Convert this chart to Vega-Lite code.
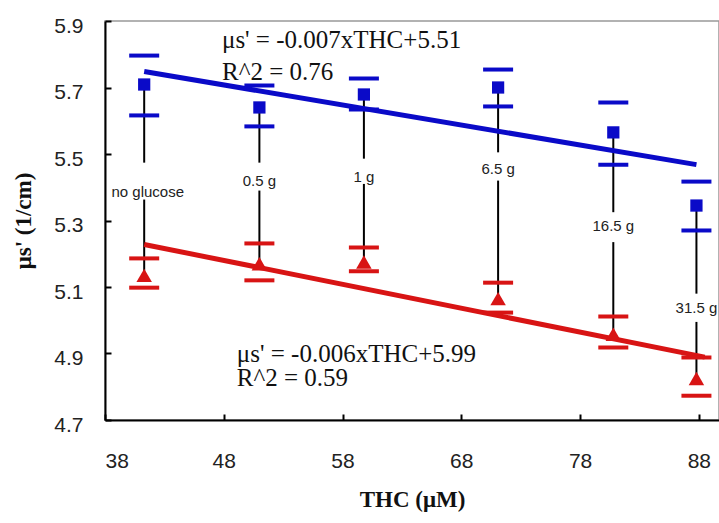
{
  "$schema": "https://vega.github.io/schema/vega-lite/v6.json",
  "width": 614,
  "height": 399,
  "autosize": {"type": "none"},
  "padding": {"left": 105, "top": 21, "right": 0, "bottom": 103},
  "background": "white",
  "view": {"stroke": "#999999", "strokeWidth": 1.5},
  "datasets": {
    "pts": [
      {"thc": 41.3, "series": "blue", "value": 5.709, "lo": 5.616, "hi": 5.796},
      {"thc": 51.0, "series": "blue", "value": 5.640, "lo": 5.583, "hi": 5.706},
      {"thc": 59.8, "series": "blue", "value": 5.679, "lo": 5.634, "hi": 5.727},
      {"thc": 71.1, "series": "blue", "value": 5.700, "lo": 5.643, "hi": 5.754},
      {"thc": 80.8, "series": "blue", "value": 5.565, "lo": 5.468, "hi": 5.655},
      {"thc": 87.8, "series": "blue", "value": 5.345, "lo": 5.270, "hi": 5.417},
      {"thc": 41.3, "series": "red", "value": 5.135, "lo": 5.098, "hi": 5.186},
      {"thc": 51.0, "series": "red", "value": 5.170, "lo": 5.120, "hi": 5.231},
      {"thc": 59.8, "series": "red", "value": 5.175, "lo": 5.147, "hi": 5.219},
      {"thc": 71.1, "series": "red", "value": 5.065, "lo": 5.023, "hi": 5.113},
      {"thc": 80.8, "series": "red", "value": 4.958, "lo": 4.918, "hi": 5.011},
      {"thc": 87.8, "series": "red", "value": 4.825, "lo": 4.773, "hi": 4.888}
    ],
    "conn": [
      {"thc": 41.3, "y1": 5.709, "y2": 5.474},
      {"thc": 41.3, "y1": 5.363, "y2": 5.14},
      {"thc": 51.0, "y1": 5.645, "y2": 5.474},
      {"thc": 51.0, "y1": 5.39, "y2": 5.17},
      {"thc": 59.8, "y1": 5.679, "y2": 5.486},
      {"thc": 59.8, "y1": 5.41, "y2": 5.18},
      {"thc": 71.1, "y1": 5.70, "y2": 5.505},
      {"thc": 71.1, "y1": 5.42, "y2": 5.07},
      {"thc": 80.8, "y1": 5.565, "y2": 5.325},
      {"thc": 80.8, "y1": 5.235, "y2": 4.96},
      {"thc": 87.8, "y1": 5.345, "y2": 5.08},
      {"thc": 87.8, "y1": 4.995, "y2": 4.83}
    ],
    "fit": [
      {"thc": 41.3, "series": "blue", "value": 5.748},
      {"thc": 87.8, "series": "blue", "value": 5.468},
      {"thc": 41.3, "series": "red", "value": 5.228},
      {"thc": 88.5, "series": "red", "value": 4.889}
    ],
    "labels": [
      {"thc": 41.6, "value": 5.387, "label": "no glucose"},
      {"thc": 51.0, "value": 5.42, "label": "0.5 g"},
      {"thc": 59.8, "value": 5.43, "label": "1 g"},
      {"thc": 71.1, "value": 5.456, "label": "6.5 g"},
      {"thc": 80.8, "value": 5.282, "label": "16.5 g"},
      {"thc": 87.8, "value": 5.038, "label": "31.5 g"}
    ],
    "eq": [
      {"thc": 47.85, "value": 5.844, "label": "μs' = -0.007xTHC+5.51"},
      {"thc": 47.85, "value": 5.748, "label": "R^2 = 0.76"},
      {"thc": 49.1, "value": 4.9, "label": "μs' = -0.006xTHC+5.99"},
      {"thc": 49.1, "value": 4.825, "label": "R^2 = 0.59"}
    ]
  },
  "encoding": {
    "x": {
      "field": "thc", "type": "quantitative",
      "scale": {"domain": [38, 89.7], "nice": false, "zero": false},
      "axis": {
        "title": "THC (μM)", "values": [38, 48, 58, 68, 78, 88],
        "grid": false, "tickSize": -6, "tickColor": "black", "domainColor": "black", "domainWidth": 2, "tickWidth": 2,
        "labelFont": "Liberation Sans", "labelFontSize": 21, "labelColor": "#222", "labelPadding": 36,
        "titleFont": "Liberation Serif", "titleFontSize": 23, "titleFontWeight": "bold", "titleColor": "#111", "titlePadding": 17
      }
    },
    "y": {
      "field": "value", "type": "quantitative",
      "scale": {"domain": [4.7, 5.9], "nice": false, "zero": false},
      "axis": {
        "title": "μs' (1/cm)", "values": [4.7, 4.9, 5.1, 5.3, 5.5, 5.7, 5.9], "format": ".1f",
        "grid": false, "tickSize": -6, "tickColor": "black", "domainColor": "black", "domainWidth": 2, "tickWidth": 2,
        "labelFont": "Liberation Sans", "labelFontSize": 21, "labelColor": "#222", "labelPadding": 28, "labelOffset": 5,
        "titleFont": "Liberation Serif", "titleFontSize": 23, "titleFontWeight": "bold", "titleColor": "#111", "titlePadding": 18
      }
    }
  },
  "layer": [
    {
      "data": {"name": "conn"},
      "mark": {"type": "rule", "color": "black", "strokeWidth": 2},
      "encoding": {"y": {"field": "y1", "type": "quantitative"}, "y2": {"field": "y2"}}
    },
    {
      "data": {"name": "fit"},
      "mark": {"type": "line", "strokeWidth": 5},
      "encoding": {
        "color": {"field": "series", "type": "nominal", "scale": {"domain": ["blue", "red"], "range": ["#0a0ac8", "#d81414"]}, "legend": null},
        "detail": {"field": "series"}
      }
    },
    {
      "data": {"name": "pts"},
      "mark": {"type": "tick", "orient": "horizontal", "size": 30, "thickness": 4, "opacity": 1},
      "encoding": {
        "y": {"field": "lo", "type": "quantitative"},
        "color": {"field": "series", "type": "nominal", "legend": null}
      }
    },
    {
      "data": {"name": "pts"},
      "mark": {"type": "tick", "orient": "horizontal", "size": 30, "thickness": 4, "opacity": 1},
      "encoding": {
        "y": {"field": "hi", "type": "quantitative"},
        "color": {"field": "series", "type": "nominal", "legend": null}
      }
    },
    {
      "data": {"name": "pts"},
      "transform": [{"filter": "datum.series === 'blue'"}],
      "mark": {"type": "point", "shape": "square", "filled": true, "opacity": 1, "size": 150},
      "encoding": {
        "color": {"field": "series", "type": "nominal", "legend": null}
      }
    },
    {
      "data": {"name": "pts"},
      "transform": [{"filter": "datum.series === 'red'"}],
      "mark": {"type": "point", "shape": "triangle-up", "filled": true, "opacity": 1, "size": 240},
      "encoding": {
        "color": {"field": "series", "type": "nominal", "legend": null}
      }
    },
    {
      "data": {"name": "labels"},
      "mark": {"type": "text", "font": "Liberation Sans", "fontSize": 15, "color": "#222", "align": "center", "baseline": "middle"},
      "encoding": {"text": {"field": "label"}}
    },
    {
      "data": {"name": "eq"},
      "mark": {"type": "text", "font": "Liberation Serif", "fontSize": 25, "color": "#111", "align": "left", "baseline": "middle"},
      "encoding": {"text": {"field": "label"}}
    }
  ]
}
